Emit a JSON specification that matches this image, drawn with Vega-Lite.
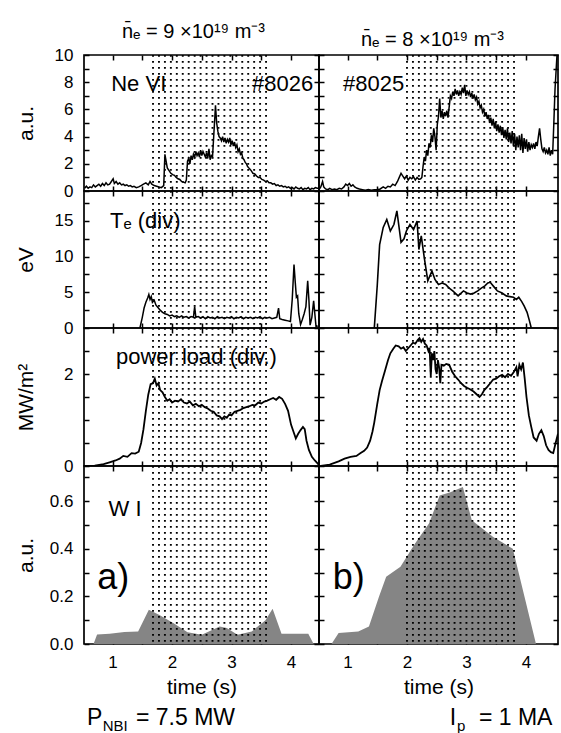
{
"$schema": "https://vega.github.io/schema/vega-lite/v6.json",
"background": "white",
"padding": {"left": 14, "top": 21, "right": 0, "bottom": 0},
"columns": 2,
"spacing": 0,
"bounds": "flush",
"align": "each",
"datasets": {
"dots_l": [{"t":1.68},{"t":1.78},{"t":1.88},{"t":1.98},{"t":2.08},{"t":2.18},{"t":2.28},{"t":2.38},{"t":2.48},{"t":2.58},{"t":2.68},{"t":2.78},{"t":2.88},{"t":2.98},{"t":3.08},{"t":3.18},{"t":3.28},{"t":3.38},{"t":3.48},{"t":3.58}],
"dots_r": [{"t":2.0},{"t":2.1},{"t":2.2},{"t":2.3},{"t":2.4},{"t":2.5},{"t":2.6},{"t":2.7},{"t":2.8},{"t":2.9},{"t":3.0},{"t":3.1},{"t":3.2},{"t":3.3},{"t":3.4},{"t":3.5},{"t":3.6},{"t":3.7},{"t":3.8}],
"ne_l": [{"t":0.53,"v":0.2},{"t":0.56,"v":0.35},{"t":0.59,"v":0.2},{"t":0.62,"v":0.3},{"t":0.65,"v":0.25},{"t":0.68,"v":0.45},{"t":0.71,"v":0.3},{"t":0.74,"v":0.4},{"t":0.77,"v":0.5},{"t":0.8,"v":0.35},{"t":0.83,"v":0.55},{"t":0.86,"v":0.4},{"t":0.89,"v":0.6},{"t":0.92,"v":0.45},{"t":0.95,"v":0.5},{"t":0.98,"v":0.7},{"t":1.01,"v":0.9},{"t":1.03,"v":0.55},{"t":1.06,"v":0.7},{"t":1.09,"v":0.5},{"t":1.12,"v":0.6},{"t":1.15,"v":0.45},{"t":1.18,"v":0.5},{"t":1.21,"v":0.4},{"t":1.24,"v":0.45},{"t":1.27,"v":0.35},{"t":1.3,"v":0.4},{"t":1.33,"v":0.3},{"t":1.36,"v":0.35},{"t":1.4,"v":0.25},{"t":1.44,"v":0.3},{"t":1.48,"v":0.4},{"t":1.52,"v":0.5},{"t":1.56,"v":0.6},{"t":1.6,"v":0.45},{"t":1.63,"v":0.7},{"t":1.66,"v":0.5},{"t":1.7,"v":0.4},{"t":1.74,"v":0.35},{"t":1.78,"v":0.3},{"t":1.82,"v":0.25},{"t":1.86,"v":0.4},{"t":1.88,"v":2.7},{"t":1.9,"v":2.2},{"t":1.92,"v":1.7},{"t":1.95,"v":1.5},{"t":1.98,"v":1.3},{"t":2.01,"v":1.2},{"t":2.04,"v":1.15},{"t":2.07,"v":1.0},{"t":2.1,"v":0.9},{"t":2.13,"v":0.85},{"t":2.16,"v":0.7},{"t":2.19,"v":0.65},{"t":2.22,"v":0.6},{"t":2.24,"v":0.8},{"t":2.26,"v":2.2},{"t":2.28,"v":2.4},{"t":2.3,"v":2.0},{"t":2.32,"v":2.6},{"t":2.34,"v":2.3},{"t":2.36,"v":2.7},{"t":2.38,"v":2.5},{"t":2.4,"v":2.9},{"t":2.42,"v":2.6},{"t":2.44,"v":2.8},{"t":2.46,"v":2.5},{"t":2.48,"v":3.0},{"t":2.5,"v":2.6},{"t":2.52,"v":2.9},{"t":2.54,"v":2.7},{"t":2.56,"v":2.5},{"t":2.58,"v":2.8},{"t":2.6,"v":2.4},{"t":2.62,"v":3.1},{"t":2.64,"v":2.3},{"t":2.66,"v":2.6},{"t":2.68,"v":2.5},{"t":2.7,"v":4.0},{"t":2.72,"v":5.5},{"t":2.73,"v":6.3},{"t":2.75,"v":5.0},{"t":2.77,"v":4.4},{"t":2.79,"v":4.0},{"t":2.81,"v":3.9},{"t":2.83,"v":3.7},{"t":2.85,"v":4.0},{"t":2.87,"v":3.6},{"t":2.89,"v":3.9},{"t":2.91,"v":3.5},{"t":2.93,"v":3.8},{"t":2.95,"v":3.6},{"t":2.97,"v":3.9},{"t":2.99,"v":3.4},{"t":3.01,"v":3.7},{"t":3.03,"v":3.3},{"t":3.05,"v":3.6},{"t":3.07,"v":3.2},{"t":3.09,"v":3.4},{"t":3.11,"v":2.9},{"t":3.13,"v":3.1},{"t":3.15,"v":2.7},{"t":3.17,"v":2.8},{"t":3.19,"v":2.4},{"t":3.21,"v":2.3},{"t":3.23,"v":2.1},{"t":3.25,"v":2.0},{"t":3.27,"v":1.8},{"t":3.29,"v":1.7},{"t":3.31,"v":1.6},{"t":3.33,"v":1.5},{"t":3.36,"v":1.3},{"t":3.39,"v":1.25},{"t":3.42,"v":1.1},{"t":3.45,"v":1.0},{"t":3.48,"v":1.0},{"t":3.51,"v":0.85},{"t":3.54,"v":0.8},{"t":3.57,"v":0.7},{"t":3.6,"v":0.75},{"t":3.63,"v":0.6},{"t":3.66,"v":0.6},{"t":3.69,"v":0.5},{"t":3.72,"v":0.55},{"t":3.75,"v":0.4},{"t":3.78,"v":0.45},{"t":3.81,"v":0.35},{"t":3.84,"v":0.4},{"t":3.87,"v":0.3},{"t":3.9,"v":0.35},{"t":3.93,"v":0.25},{"t":3.96,"v":0.3},{"t":3.99,"v":0.2},{"t":4.02,"v":0.25},{"t":4.05,"v":0.15},{"t":4.08,"v":0.3},{"t":4.11,"v":0.2},{"t":4.14,"v":0.15},{"t":4.17,"v":0.25},{"t":4.2,"v":0.1},{"t":4.23,"v":0.2},{"t":4.26,"v":0.15},{"t":4.29,"v":0.25},{"t":4.32,"v":0.1},{"t":4.35,"v":0.2},{"t":4.38,"v":0.15},{"t":4.41,"v":0.25},{"t":4.44,"v":0.2},{"t":4.47,"v":0.2}],
"ne_r": [{"t":0.52,"v":0.1},{"t":0.55,"v":0.3},{"t":0.58,"v":0.7},{"t":0.6,"v":0.3},{"t":0.63,"v":0.15},{"t":0.67,"v":0.1},{"t":0.7,"v":0.2},{"t":0.74,"v":0.1},{"t":0.78,"v":0.15},{"t":0.82,"v":0.1},{"t":0.86,"v":0.2},{"t":0.9,"v":0.15},{"t":0.94,"v":0.3},{"t":0.97,"v":0.5},{"t":1.0,"v":0.4},{"t":1.03,"v":0.55},{"t":1.06,"v":0.35},{"t":1.09,"v":0.45},{"t":1.12,"v":0.3},{"t":1.16,"v":0.2},{"t":1.2,"v":0.15},{"t":1.25,"v":0.1},{"t":1.3,"v":0.05},{"t":1.35,"v":0.1},{"t":1.4,"v":0.05},{"t":1.45,"v":0.1},{"t":1.5,"v":0.1},{"t":1.55,"v":0.15},{"t":1.6,"v":0.3},{"t":1.64,"v":0.2},{"t":1.68,"v":0.35},{"t":1.72,"v":0.3},{"t":1.76,"v":0.5},{"t":1.8,"v":0.4},{"t":1.84,"v":0.7},{"t":1.87,"v":1.0},{"t":1.9,"v":1.3},{"t":1.93,"v":1.1},{"t":1.96,"v":0.9},{"t":1.99,"v":1.1},{"t":2.02,"v":0.8},{"t":2.05,"v":1.0},{"t":2.08,"v":0.9},{"t":2.11,"v":1.05},{"t":2.14,"v":0.8},{"t":2.17,"v":1.0},{"t":2.2,"v":0.85},{"t":2.23,"v":0.9},{"t":2.25,"v":1.0},{"t":2.27,"v":1.8},{"t":2.29,"v":2.5},{"t":2.31,"v":2.2},{"t":2.33,"v":3.0},{"t":2.35,"v":2.6},{"t":2.37,"v":3.5},{"t":2.39,"v":3.2},{"t":2.41,"v":4.1},{"t":2.43,"v":3.6},{"t":2.45,"v":4.6},{"t":2.47,"v":4.0},{"t":2.49,"v":3.0},{"t":2.51,"v":4.9},{"t":2.53,"v":5.5},{"t":2.55,"v":6.8},{"t":2.57,"v":5.4},{"t":2.59,"v":5.9},{"t":2.61,"v":5.3},{"t":2.63,"v":5.8},{"t":2.65,"v":5.5},{"t":2.67,"v":5.9},{"t":2.69,"v":5.4},{"t":2.71,"v":6.2},{"t":2.73,"v":7.0},{"t":2.75,"v":6.8},{"t":2.77,"v":7.3},{"t":2.79,"v":7.0},{"t":2.81,"v":7.5},{"t":2.83,"v":7.1},{"t":2.85,"v":7.4},{"t":2.87,"v":7.0},{"t":2.89,"v":7.3},{"t":2.91,"v":7.1},{"t":2.93,"v":7.6},{"t":2.95,"v":7.2},{"t":2.97,"v":7.8},{"t":2.99,"v":7.0},{"t":3.01,"v":7.4},{"t":3.03,"v":7.1},{"t":3.05,"v":7.3},{"t":3.07,"v":6.9},{"t":3.09,"v":7.2},{"t":3.11,"v":6.8},{"t":3.13,"v":7.1},{"t":3.15,"v":6.7},{"t":3.17,"v":6.9},{"t":3.19,"v":6.4},{"t":3.21,"v":6.6},{"t":3.23,"v":6.1},{"t":3.25,"v":6.3},{"t":3.27,"v":5.8},{"t":3.29,"v":6.0},{"t":3.31,"v":5.5},{"t":3.33,"v":5.8},{"t":3.35,"v":5.3},{"t":3.37,"v":5.6},{"t":3.39,"v":5.0},{"t":3.41,"v":5.4},{"t":3.43,"v":4.8},{"t":3.45,"v":5.3},{"t":3.47,"v":4.6},{"t":3.49,"v":5.1},{"t":3.51,"v":4.4},{"t":3.53,"v":4.9},{"t":3.55,"v":4.3},{"t":3.57,"v":4.8},{"t":3.59,"v":4.1},{"t":3.61,"v":4.7},{"t":3.63,"v":3.9},{"t":3.65,"v":4.5},{"t":3.67,"v":3.8},{"t":3.69,"v":4.6},{"t":3.71,"v":3.6},{"t":3.73,"v":4.3},{"t":3.75,"v":3.5},{"t":3.77,"v":4.4},{"t":3.79,"v":3.3},{"t":3.81,"v":4.2},{"t":3.83,"v":3.0},{"t":3.85,"v":4.0},{"t":3.87,"v":3.2},{"t":3.89,"v":4.1},{"t":3.91,"v":3.0},{"t":3.93,"v":4.2},{"t":3.95,"v":2.8},{"t":3.97,"v":3.9},{"t":3.99,"v":3.1},{"t":4.01,"v":3.8},{"t":4.03,"v":2.9},{"t":4.05,"v":3.6},{"t":4.07,"v":3.0},{"t":4.09,"v":3.4},{"t":4.11,"v":3.2},{"t":4.13,"v":3.5},{"t":4.15,"v":3.1},{"t":4.17,"v":3.6},{"t":4.19,"v":3.3},{"t":4.21,"v":4.0},{"t":4.23,"v":4.6},{"t":4.25,"v":3.8},{"t":4.27,"v":3.1},{"t":4.29,"v":2.9},{"t":4.31,"v":3.2},{"t":4.33,"v":2.8},{"t":4.35,"v":3.0},{"t":4.37,"v":2.7},{"t":4.39,"v":3.2},{"t":4.41,"v":2.6},{"t":4.43,"v":3.0},{"t":4.45,"v":2.7},{"t":4.47,"v":5.0},{"t":4.49,"v":7.5},{"t":4.51,"v":9.0},{"t":4.53,"v":10.5}],
"te_l": [{"t":1.46,"v":0},{"t":1.5,"v":1.5},{"t":1.53,"v":2.8},{"t":1.56,"v":3.6},{"t":1.59,"v":4.2},{"t":1.61,"v":4.7},{"t":1.63,"v":4.0},{"t":1.65,"v":4.4},{"t":1.67,"v":3.6},{"t":1.7,"v":3.9},{"t":1.73,"v":3.2},{"t":1.76,"v":2.9},{"t":1.8,"v":2.5},{"t":1.84,"v":2.2},{"t":1.88,"v":2.0},{"t":1.92,"v":1.9},{"t":1.96,"v":1.7},{"t":2.0,"v":1.8},{"t":2.04,"v":1.6},{"t":2.08,"v":1.7},{"t":2.12,"v":1.5},{"t":2.16,"v":1.7},{"t":2.2,"v":1.5},{"t":2.24,"v":1.6},{"t":2.28,"v":1.4},{"t":2.32,"v":1.6},{"t":2.36,"v":1.5},{"t":2.38,"v":3.0},{"t":2.4,"v":1.5},{"t":2.44,"v":1.6},{"t":2.48,"v":1.4},{"t":2.52,"v":1.6},{"t":2.56,"v":1.3},{"t":2.6,"v":1.6},{"t":2.64,"v":1.4},{"t":2.68,"v":1.5},{"t":2.72,"v":1.3},{"t":2.76,"v":1.6},{"t":2.8,"v":1.4},{"t":2.84,"v":1.5},{"t":2.88,"v":1.3},{"t":2.92,"v":1.5},{"t":2.96,"v":1.4},{"t":3.0,"v":1.6},{"t":3.04,"v":1.3},{"t":3.08,"v":1.5},{"t":3.12,"v":1.4},{"t":3.16,"v":1.6},{"t":3.2,"v":1.3},{"t":3.24,"v":1.5},{"t":3.28,"v":1.4},{"t":3.32,"v":1.5},{"t":3.36,"v":1.3},{"t":3.4,"v":1.5},{"t":3.44,"v":1.4},{"t":3.48,"v":1.6},{"t":3.52,"v":1.3},{"t":3.56,"v":1.5},{"t":3.6,"v":1.4},{"t":3.64,"v":1.5},{"t":3.68,"v":1.3},{"t":3.72,"v":1.4},{"t":3.76,"v":1.5},{"t":3.79,"v":2.8},{"t":3.81,"v":1.3},{"t":3.85,"v":1.2},{"t":3.9,"v":1.1},{"t":3.95,"v":1.0},{"t":3.99,"v":0.9},{"t":4.02,"v":4.0},{"t":4.05,"v":8.9},{"t":4.07,"v":6.5},{"t":4.09,"v":4.3},{"t":4.11,"v":4.5},{"t":4.13,"v":2.0},{"t":4.16,"v":0.5},{"t":4.19,"v":1.2},{"t":4.22,"v":2.0},{"t":4.25,"v":3.0},{"t":4.28,"v":6.6},{"t":4.3,"v":4.0},{"t":4.32,"v":0.4},{"t":4.35,"v":1.5},{"t":4.38,"v":3.8},{"t":4.4,"v":2.0},{"t":4.42,"v":0.2},{"t":4.45,"v":0.3}],
"te_r": [{"t":1.45,"v":0},{"t":1.5,"v":6},{"t":1.54,"v":11.7},{"t":1.6,"v":14.1},{"t":1.66,"v":15.2},{"t":1.72,"v":13.6},{"t":1.78,"v":14.5},{"t":1.83,"v":16.4},{"t":1.9,"v":12.0},{"t":1.95,"v":12.5},{"t":1.99,"v":13.6},{"t":2.05,"v":14.5},{"t":2.11,"v":13.8},{"t":2.17,"v":15.0},{"t":2.2,"v":11.0},{"t":2.24,"v":12.9},{"t":2.29,"v":9.9},{"t":2.35,"v":6.6},{"t":2.42,"v":8.0},{"t":2.47,"v":6.8},{"t":2.53,"v":6.1},{"t":2.59,"v":6.3},{"t":2.65,"v":6.1},{"t":2.71,"v":5.6},{"t":2.77,"v":5.2},{"t":2.86,"v":4.5},{"t":2.95,"v":5.2},{"t":3.01,"v":4.9},{"t":3.07,"v":4.75},{"t":3.13,"v":4.9},{"t":3.19,"v":5.2},{"t":3.25,"v":5.6},{"t":3.31,"v":5.9},{"t":3.36,"v":6.3},{"t":3.4,"v":6.4},{"t":3.46,"v":5.8},{"t":3.52,"v":5.2},{"t":3.6,"v":4.9},{"t":3.67,"v":4.5},{"t":3.73,"v":4.4},{"t":3.79,"v":4.3},{"t":3.84,"v":4.0},{"t":3.88,"v":4.3},{"t":3.93,"v":3.7},{"t":3.97,"v":3.1},{"t":4.02,"v":2.2},{"t":4.06,"v":1.0},{"t":4.09,"v":0}],
"pw_l": [{"t":0.52,"v":0},{"t":0.7,"v":0.01},{"t":0.85,"v":0.04},{"t":0.95,"v":0.08},{"t":1.05,"v":0.12},{"t":1.12,"v":0.16},{"t":1.18,"v":0.22},{"t":1.25,"v":0.2},{"t":1.32,"v":0.28},{"t":1.38,"v":0.27},{"t":1.44,"v":0.31},{"t":1.48,"v":0.5},{"t":1.52,"v":0.8},{"t":1.56,"v":1.2},{"t":1.6,"v":1.55},{"t":1.64,"v":1.78},{"t":1.68,"v":1.8},{"t":1.71,"v":1.9},{"t":1.74,"v":1.75},{"t":1.77,"v":1.8},{"t":1.8,"v":1.65},{"t":1.84,"v":1.6},{"t":1.88,"v":1.5},{"t":1.92,"v":1.42},{"t":1.96,"v":1.45},{"t":2.0,"v":1.38},{"t":2.05,"v":1.42},{"t":2.1,"v":1.4},{"t":2.15,"v":1.45},{"t":2.2,"v":1.38},{"t":2.25,"v":1.36},{"t":2.3,"v":1.4},{"t":2.35,"v":1.32},{"t":2.4,"v":1.35},{"t":2.45,"v":1.3},{"t":2.5,"v":1.33},{"t":2.55,"v":1.28},{"t":2.6,"v":1.25},{"t":2.65,"v":1.2},{"t":2.7,"v":1.18},{"t":2.75,"v":1.1},{"t":2.8,"v":1.08},{"t":2.84,"v":1.02},{"t":2.88,"v":1.08},{"t":2.92,"v":1.05},{"t":2.96,"v":1.12},{"t":3.0,"v":1.1},{"t":3.05,"v":1.18},{"t":3.1,"v":1.2},{"t":3.15,"v":1.22},{"t":3.2,"v":1.26},{"t":3.25,"v":1.28},{"t":3.3,"v":1.3},{"t":3.35,"v":1.33},{"t":3.4,"v":1.32},{"t":3.45,"v":1.38},{"t":3.5,"v":1.36},{"t":3.55,"v":1.4},{"t":3.6,"v":1.42},{"t":3.65,"v":1.45},{"t":3.7,"v":1.48},{"t":3.75,"v":1.44},{"t":3.8,"v":1.5},{"t":3.85,"v":1.46},{"t":3.9,"v":1.35},{"t":3.95,"v":1.2},{"t":4.0,"v":0.9},{"t":4.04,"v":0.75},{"t":4.08,"v":0.6},{"t":4.12,"v":0.7},{"t":4.16,"v":0.78},{"t":4.2,"v":0.85},{"t":4.23,"v":0.8},{"t":4.26,"v":0.55},{"t":4.3,"v":0.35},{"t":4.35,"v":0.2},{"t":4.4,"v":0.12},{"t":4.45,"v":0.05},{"t":4.47,"v":0.02}],
"pw_r": [{"t":0.55,"v":0},{"t":0.7,"v":0.03},{"t":0.85,"v":0.1},{"t":0.95,"v":0.16},{"t":1.05,"v":0.2},{"t":1.15,"v":0.22},{"t":1.22,"v":0.28},{"t":1.28,"v":0.33},{"t":1.33,"v":0.4},{"t":1.38,"v":0.55},{"t":1.42,"v":0.75},{"t":1.45,"v":0.95},{"t":1.5,"v":1.35},{"t":1.54,"v":1.65},{"t":1.58,"v":1.85},{"t":1.63,"v":2.07},{"t":1.68,"v":2.3},{"t":1.72,"v":2.45},{"t":1.77,"v":2.55},{"t":1.81,"v":2.62},{"t":1.86,"v":2.6},{"t":1.9,"v":2.55},{"t":1.94,"v":2.58},{"t":1.98,"v":2.5},{"t":2.02,"v":2.56},{"t":2.06,"v":2.62},{"t":2.1,"v":2.68},{"t":2.14,"v":2.66},{"t":2.18,"v":2.74},{"t":2.21,"v":2.78},{"t":2.24,"v":2.7},{"t":2.27,"v":2.76},{"t":2.3,"v":2.66},{"t":2.33,"v":2.62},{"t":2.36,"v":2.5},{"t":2.38,"v":2.57},{"t":2.4,"v":1.95},{"t":2.42,"v":2.45},{"t":2.44,"v":2.3},{"t":2.46,"v":2.5},{"t":2.48,"v":2.1},{"t":2.5,"v":2.0},{"t":2.52,"v":2.3},{"t":2.54,"v":2.15},{"t":2.56,"v":1.8},{"t":2.58,"v":2.2},{"t":2.62,"v":2.18},{"t":2.66,"v":2.22},{"t":2.71,"v":2.2},{"t":2.76,"v":2.05},{"t":2.81,"v":1.95},{"t":2.86,"v":1.88},{"t":2.91,"v":1.8},{"t":2.96,"v":1.74},{"t":3.01,"v":1.7},{"t":3.06,"v":1.67},{"t":3.12,"v":1.62},{"t":3.17,"v":1.56},{"t":3.22,"v":1.5},{"t":3.26,"v":1.56},{"t":3.3,"v":1.65},{"t":3.35,"v":1.72},{"t":3.4,"v":1.8},{"t":3.45,"v":1.88},{"t":3.5,"v":1.9},{"t":3.55,"v":1.95},{"t":3.6,"v":1.98},{"t":3.65,"v":1.93},{"t":3.7,"v":2.0},{"t":3.75,"v":1.96},{"t":3.8,"v":2.05},{"t":3.84,"v":2.15},{"t":3.86,"v":1.95},{"t":3.89,"v":2.2},{"t":3.92,"v":2.1},{"t":3.95,"v":2.25},{"t":3.98,"v":1.9},{"t":4.01,"v":1.5},{"t":4.05,"v":1.1},{"t":4.09,"v":0.85},{"t":4.13,"v":0.62},{"t":4.18,"v":0.55},{"t":4.22,"v":0.7},{"t":4.26,"v":0.78},{"t":4.3,"v":0.65},{"t":4.34,"v":0.45},{"t":4.38,"v":0.35},{"t":4.42,"v":0.3},{"t":4.46,"v":0.28},{"t":4.5,"v":0.5},{"t":4.54,"v":0.7}],
"w_l": [{"t":0.68,"v":0},{"t":0.74,"v":0.04},{"t":0.95,"v":0.043},{"t":1.2,"v":0.05},{"t":1.43,"v":0.053},{"t":1.61,"v":0.144},{"t":1.78,"v":0.123},{"t":2.02,"v":0.088},{"t":2.26,"v":0.049},{"t":2.5,"v":0.039},{"t":2.8,"v":0.074},{"t":2.92,"v":0.067},{"t":3.1,"v":0.039},{"t":3.34,"v":0.053},{"t":3.57,"v":0.1},{"t":3.69,"v":0.148},{"t":3.84,"v":0.043},{"t":4.29,"v":0.043},{"t":4.38,"v":0}],
"w_r": [{"t":0.73,"v":0},{"t":0.85,"v":0.046},{"t":1.18,"v":0.053},{"t":1.36,"v":0.074},{"t":1.53,"v":0.2},{"t":1.65,"v":0.283},{"t":1.89,"v":0.325},{"t":2.13,"v":0.42},{"t":2.37,"v":0.506},{"t":2.55,"v":0.624},{"t":2.73,"v":0.638},{"t":2.94,"v":0.66},{"t":3.09,"v":0.52},{"t":3.45,"v":0.45},{"t":3.78,"v":0.4},{"t":3.99,"v":0.185},{"t":4.17,"v":0}],
"labels": [{"p":"ne_l","label":"Ne VI","t":1.44,"v":7.35},{"p":"ne_l","label":"#8026","t":3.86,"v":7.35},{"p":"ne_r","label":"#8025","t":1.44,"v":7.35},{"p":"te_l","label":"T\u2091 (div)","t":1.55,"v":14.0},{"p":"pw_l","label":"power load (div.)","t":2.41,"v":2.22},{"p":"w_l","label":"W I","t":1.21,"v":0.536}],
"tags": [{"p":"w_l","label":"a)","t":1.01,"v":0.23},{"p":"w_r","label":"b)","t":1.02,"v":0.23}],
"foot": [{"p":"l","part":"main","label":"P","t":0.57,"v":-0.34},{"p":"l","part":"sub","label":"NBI","t":0.834,"v":-0.34},{"p":"l","part":"main","label":"= 7.5 MW","t":1.394,"v":-0.34},{"p":"r","part":"main","label":"I","t":2.72,"v":-0.34},{"p":"r","part":"sub","label":"p","t":2.84,"v":-0.34},{"p":"r","part":"main","label":"= 1 MA","t":3.21,"v":-0.34}]
},
"concat": [
{
"width": 235, "height": 136,
"title": {"text": "n\u0304\u2091 = 9 \u00d710\u00b9\u2079 m\u207b\u00b3", "baseline": "alphabetic", "offset": -12, "dx": -8},
"layer": [
{"data": {"name": "dots_l"}, "mark": {"type": "rule", "strokeDash": [1.8, 4.2], "strokeWidth": 1.9, "color": "black"},
 "encoding": {"x": {"field": "t", "type": "quantitative", "scale": {"domain": [0.52, 4.47], "nice": false}, "axis": {"orient": "top", "values": [1,1.5,2,2.5,3,3.5,4], "labels": false, "title": null}}}},
{"data": {"name": "ne_l"}, "mark": {"type": "line", "color": "black", "strokeWidth": 1.5, "clip": true},
 "encoding": {"x": {"field": "t", "type": "quantitative", "scale": {"domain": [0.52, 4.47], "nice": false}, "axis": {"orient": "bottom", "values": [1,1.5,2,2.5,3,3.5,4], "labels": false, "title": null}},
  "y": {"field": "v", "type": "quantitative", "scale": {"domain": [0, 10], "nice": false}, "axis": {"orient": "left", "values": [0,1,2,3,4,5,6,7,8,9,10], "labelExpr": "datum.value % 2 == 0 ? datum.label : ''", "title": "a.u.", "titleX": -48}}}},
{"data": {"name": "ne_l"}, "mark": {"type": "line", "opacity": 0},
 "encoding": {"x": {"field": "t", "type": "quantitative", "scale": {"domain": [0.52, 4.47], "nice": false}, "axis": null},
  "y": {"field": "v", "type": "quantitative", "scale": {"domain": [0, 10], "nice": false}, "axis": {"orient": "right", "values": [0,1,2,3,4,5,6,7,8,9,10], "labels": false, "title": null}}}},
{"data": {"name": "labels"}, "transform": [{"filter": "datum.p == 'ne_l'"}], "mark": {"type": "text", "fontSize": 22, "align": "center", "baseline": "alphabetic"},
 "encoding": {"x": {"field": "t", "type": "quantitative", "scale": {"domain": [0.52, 4.47], "nice": false}, "axis": null}, "y": {"field": "v", "type": "quantitative", "scale": {"domain": [0, 10], "nice": false}, "axis": null}, "text": {"field": "label"}}}
],
"resolve": {"axis": {"x": "independent", "y": "independent"}}
},
{
"width": 239, "height": 136,
"title": {"text": "n\u0304\u2091 = 8 \u00d710\u00b9\u2079 m\u207b\u00b3", "baseline": "alphabetic", "offset": -12, "dx": -6},
"layer": [
{"data": {"name": "dots_r"}, "mark": {"type": "rule", "strokeDash": [1.8, 4.2], "strokeWidth": 1.9, "color": "black"},
 "encoding": {"x": {"field": "t", "type": "quantitative", "scale": {"domain": [0.52, 4.54], "nice": false}, "axis": {"orient": "top", "values": [1,1.5,2,2.5,3,3.5,4], "labels": false, "title": null}}}},
{"data": {"name": "ne_r"}, "mark": {"type": "line", "color": "black", "strokeWidth": 1.5, "clip": true},
 "encoding": {"x": {"field": "t", "type": "quantitative", "scale": {"domain": [0.52, 4.54], "nice": false}, "axis": {"orient": "bottom", "values": [1,1.5,2,2.5,3,3.5,4], "labels": false, "title": null}},
  "y": {"field": "v", "type": "quantitative", "scale": {"domain": [0, 10], "nice": false}, "axis": {"orient": "left", "values": [0,1,2,3,4,5,6,7,8,9,10], "labels": false, "title": null}}}},
{"data": {"name": "ne_r"}, "mark": {"type": "line", "opacity": 0, "clip": true},
 "encoding": {"x": {"field": "t", "type": "quantitative", "scale": {"domain": [0.52, 4.54], "nice": false}, "axis": null},
  "y": {"field": "v", "type": "quantitative", "scale": {"domain": [0, 10], "nice": false}, "axis": {"orient": "right", "values": [0,1,2,3,4,5,6,7,8,9,10], "labels": false, "title": null}}}},
{"data": {"name": "labels"}, "transform": [{"filter": "datum.p == 'ne_r'"}], "mark": {"type": "text", "fontSize": 22, "align": "center", "baseline": "alphabetic"},
 "encoding": {"x": {"field": "t", "type": "quantitative", "scale": {"domain": [0.52, 4.54], "nice": false}, "axis": null}, "y": {"field": "v", "type": "quantitative", "scale": {"domain": [0, 10], "nice": false}, "axis": null}, "text": {"field": "label"}}}
],
"resolve": {"axis": {"x": "independent", "y": "independent"}}
},
{
"width": 235, "height": 137,
"layer": [
{"data": {"name": "dots_l"}, "mark": {"type": "rule", "strokeDash": [1.8, 4.2], "strokeWidth": 1.9, "color": "black"},
 "encoding": {"x": {"field": "t", "type": "quantitative", "scale": {"domain": [0.52, 4.47], "nice": false}, "axis": {"orient": "top", "values": [1,1.5,2,2.5,3,3.5,4], "labels": false, "title": null}}}},
{"data": {"name": "te_l"}, "mark": {"type": "line", "color": "black", "strokeWidth": 1.5, "clip": true},
 "encoding": {"x": {"field": "t", "type": "quantitative", "scale": {"domain": [0.52, 4.47], "nice": false}, "axis": {"orient": "bottom", "values": [1,1.5,2,2.5,3,3.5,4], "labels": false, "title": null}},
  "y": {"field": "v", "type": "quantitative", "scale": {"domain": [0, 19.2], "nice": false}, "axis": {"orient": "left", "values": [0,2.5,5,7.5,10,12.5,15,17.5], "labelExpr": "datum.value % 5 == 0 ? datum.label : ''", "title": "eV", "titleX": -48}}}},
{"data": {"name": "te_l"}, "mark": {"type": "line", "opacity": 0},
 "encoding": {"x": {"field": "t", "type": "quantitative", "scale": {"domain": [0.52, 4.47], "nice": false}, "axis": null},
  "y": {"field": "v", "type": "quantitative", "scale": {"domain": [0, 19.2], "nice": false}, "axis": {"orient": "right", "values": [0,2.5,5,7.5,10,12.5,15,17.5], "labels": false, "title": null}}}},
{"data": {"name": "labels"}, "transform": [{"filter": "datum.p == 'te_l'"}], "mark": {"type": "text", "fontSize": 22, "align": "center", "baseline": "alphabetic"},
 "encoding": {"x": {"field": "t", "type": "quantitative", "scale": {"domain": [0.52, 4.47], "nice": false}, "axis": null}, "y": {"field": "v", "type": "quantitative", "scale": {"domain": [0, 19.2], "nice": false}, "axis": null}, "text": {"field": "label"}}}
],
"resolve": {"axis": {"x": "independent", "y": "independent"}}
},
{
"width": 239, "height": 137,
"layer": [
{"data": {"name": "dots_r"}, "mark": {"type": "rule", "strokeDash": [1.8, 4.2], "strokeWidth": 1.9, "color": "black"},
 "encoding": {"x": {"field": "t", "type": "quantitative", "scale": {"domain": [0.52, 4.54], "nice": false}, "axis": {"orient": "top", "values": [1,1.5,2,2.5,3,3.5,4], "labels": false, "title": null}}}},
{"data": {"name": "te_r"}, "mark": {"type": "line", "color": "black", "strokeWidth": 1.6, "clip": true},
 "encoding": {"x": {"field": "t", "type": "quantitative", "scale": {"domain": [0.52, 4.54], "nice": false}, "axis": {"orient": "bottom", "values": [1,1.5,2,2.5,3,3.5,4], "labels": false, "title": null}},
  "y": {"field": "v", "type": "quantitative", "scale": {"domain": [0, 19.2], "nice": false}, "axis": {"orient": "left", "values": [0,2.5,5,7.5,10,12.5,15,17.5], "labels": false, "title": null}}}},
{"data": {"name": "te_r"}, "mark": {"type": "line", "opacity": 0},
 "encoding": {"x": {"field": "t", "type": "quantitative", "scale": {"domain": [0.52, 4.54], "nice": false}, "axis": null},
  "y": {"field": "v", "type": "quantitative", "scale": {"domain": [0, 19.2], "nice": false}, "axis": {"orient": "right", "values": [0,2.5,5,7.5,10,12.5,15,17.5], "labels": false, "title": null}}}}
],
"resolve": {"axis": {"x": "independent", "y": "independent"}}
},
{
"width": 235, "height": 138,
"layer": [
{"data": {"name": "dots_l"}, "mark": {"type": "rule", "strokeDash": [1.8, 4.2], "strokeWidth": 1.9, "color": "black"},
 "encoding": {"x": {"field": "t", "type": "quantitative", "scale": {"domain": [0.52, 4.47], "nice": false}, "axis": {"orient": "top", "values": [1,1.5,2,2.5,3,3.5,4], "labels": false, "title": null}}}},
{"data": {"name": "pw_l"}, "mark": {"type": "line", "color": "black", "strokeWidth": 1.8, "clip": true},
 "encoding": {"x": {"field": "t", "type": "quantitative", "scale": {"domain": [0.52, 4.47], "nice": false}, "axis": {"orient": "bottom", "values": [1,1.5,2,2.5,3,3.5,4], "labels": false, "title": null}},
  "y": {"field": "v", "type": "quantitative", "scale": {"domain": [0, 3], "nice": false}, "axis": {"orient": "left", "values": [0,0.5,1,1.5,2,2.5], "format": ".0f", "labelExpr": "datum.value == 0 || datum.value == 2 ? datum.label : ''", "title": "MW/m\u00b2", "titleX": -48}}}},
{"data": {"name": "pw_l"}, "mark": {"type": "line", "opacity": 0},
 "encoding": {"x": {"field": "t", "type": "quantitative", "scale": {"domain": [0.52, 4.47], "nice": false}, "axis": null},
  "y": {"field": "v", "type": "quantitative", "scale": {"domain": [0, 3], "nice": false}, "axis": {"orient": "right", "values": [0,0.5,1,1.5,2,2.5], "labels": false, "title": null}}}},
{"data": {"name": "labels"}, "transform": [{"filter": "datum.p == 'pw_l'"}], "mark": {"type": "text", "fontSize": 22, "align": "center", "baseline": "alphabetic"},
 "encoding": {"x": {"field": "t", "type": "quantitative", "scale": {"domain": [0.52, 4.47], "nice": false}, "axis": null}, "y": {"field": "v", "type": "quantitative", "scale": {"domain": [0, 3], "nice": false}, "axis": null}, "text": {"field": "label"}}}
],
"resolve": {"axis": {"x": "independent", "y": "independent"}}
},
{
"width": 239, "height": 138,
"layer": [
{"data": {"name": "dots_r"}, "mark": {"type": "rule", "strokeDash": [1.8, 4.2], "strokeWidth": 1.9, "color": "black"},
 "encoding": {"x": {"field": "t", "type": "quantitative", "scale": {"domain": [0.52, 4.54], "nice": false}, "axis": {"orient": "top", "values": [1,1.5,2,2.5,3,3.5,4], "labels": false, "title": null}}}},
{"data": {"name": "pw_r"}, "mark": {"type": "line", "color": "black", "strokeWidth": 1.8, "clip": true},
 "encoding": {"x": {"field": "t", "type": "quantitative", "scale": {"domain": [0.52, 4.54], "nice": false}, "axis": {"orient": "bottom", "values": [1,1.5,2,2.5,3,3.5,4], "labels": false, "title": null}},
  "y": {"field": "v", "type": "quantitative", "scale": {"domain": [0, 3], "nice": false}, "axis": {"orient": "left", "values": [0,0.5,1,1.5,2,2.5], "labels": false, "title": null}}}},
{"data": {"name": "pw_r"}, "mark": {"type": "line", "opacity": 0},
 "encoding": {"x": {"field": "t", "type": "quantitative", "scale": {"domain": [0.52, 4.54], "nice": false}, "axis": null},
  "y": {"field": "v", "type": "quantitative", "scale": {"domain": [0, 3], "nice": false}, "axis": {"orient": "right", "values": [0,0.5,1,1.5,2,2.5], "labels": false, "title": null}}}}
],
"resolve": {"axis": {"x": "independent", "y": "independent"}}
},
{
"width": 235, "height": 178,
"layer": [
{"data": {"name": "w_l"}, "mark": {"type": "area", "color": "#858585", "clip": true},
 "encoding": {"x": {"field": "t", "type": "quantitative", "scale": {"domain": [0.52, 4.47], "nice": false}, "axis": {"orient": "bottom", "values": [1,1.5,2,2.5,3,3.5,4], "format": ".0f", "labelExpr": "datum.value % 1 == 0 ? datum.label : ''", "title": "time (s)", "titlePadding": 6}},
  "y": {"field": "v", "type": "quantitative", "scale": {"domain": [0, 0.748], "nice": false}, "axis": {"orient": "left", "values": [0,0.1,0.2,0.3,0.4,0.5,0.6,0.7], "format": ".1f", "labelExpr": "round(datum.value * 10) % 2 == 0 ? datum.label : ''", "title": "a.u.", "titleX": -48}}}},
{"data": {"name": "dots_l"}, "mark": {"type": "rule", "strokeDash": [1.8, 4.2], "strokeWidth": 1.9, "color": "black"},
 "encoding": {"x": {"field": "t", "type": "quantitative", "scale": {"domain": [0.52, 4.47], "nice": false}, "axis": {"orient": "top", "values": [1,1.5,2,2.5,3,3.5,4], "labels": false, "title": null}}}},
{"data": {"name": "w_l"}, "mark": {"type": "line", "opacity": 0},
 "encoding": {"x": {"field": "t", "type": "quantitative", "scale": {"domain": [0.52, 4.47], "nice": false}, "axis": null},
  "y": {"field": "v", "type": "quantitative", "scale": {"domain": [0, 0.748], "nice": false}, "axis": {"orient": "right", "values": [0,0.1,0.2,0.3,0.4,0.5,0.6,0.7], "labels": false, "title": null}}}},
{"data": {"name": "labels"}, "transform": [{"filter": "datum.p == 'w_l'"}], "mark": {"type": "text", "fontSize": 22, "align": "center", "baseline": "alphabetic"},
 "encoding": {"x": {"field": "t", "type": "quantitative", "scale": {"domain": [0.52, 4.47], "nice": false}, "axis": null}, "y": {"field": "v", "type": "quantitative", "scale": {"domain": [0, 0.748], "nice": false}, "axis": null}, "text": {"field": "label"}}},
{"data": {"name": "tags"}, "transform": [{"filter": "datum.p == 'w_l'"}], "mark": {"type": "text", "fontSize": 36, "align": "center", "baseline": "alphabetic"},
 "encoding": {"x": {"field": "t", "type": "quantitative", "scale": {"domain": [0.52, 4.47], "nice": false}, "axis": null}, "y": {"field": "v", "type": "quantitative", "scale": {"domain": [0, 0.748], "nice": false}, "axis": null}, "text": {"field": "label"}}},
{"data": {"name": "foot"}, "transform": [{"filter": "datum.p == 'l' && datum.part == 'main'"}], "mark": {"type": "text", "fontSize": 23, "align": "left", "baseline": "alphabetic"},
 "encoding": {"x": {"field": "t", "type": "quantitative", "scale": {"domain": [0.52, 4.47], "nice": false}, "axis": null}, "y": {"field": "v", "type": "quantitative", "scale": {"domain": [0, 0.748], "nice": false}, "axis": null}, "text": {"field": "label"}}},
{"data": {"name": "foot"}, "transform": [{"filter": "datum.p == 'l' && datum.part == 'sub'"}], "mark": {"type": "text", "fontSize": 15, "align": "left", "baseline": "alphabetic", "dy": 6},
 "encoding": {"x": {"field": "t", "type": "quantitative", "scale": {"domain": [0.52, 4.47], "nice": false}, "axis": null}, "y": {"field": "v", "type": "quantitative", "scale": {"domain": [0, 0.748], "nice": false}, "axis": null}, "text": {"field": "label"}}}
],
"resolve": {"axis": {"x": "independent", "y": "independent"}}
},
{
"width": 239, "height": 178,
"layer": [
{"data": {"name": "w_r"}, "mark": {"type": "area", "color": "#858585", "clip": true},
 "encoding": {"x": {"field": "t", "type": "quantitative", "scale": {"domain": [0.52, 4.54], "nice": false}, "axis": {"orient": "bottom", "values": [1,1.5,2,2.5,3,3.5,4], "format": ".0f", "labelExpr": "datum.value % 1 == 0 ? datum.label : ''", "title": "time (s)", "titlePadding": 6}},
  "y": {"field": "v", "type": "quantitative", "scale": {"domain": [0, 0.748], "nice": false}, "axis": {"orient": "left", "values": [0,0.1,0.2,0.3,0.4,0.5,0.6,0.7], "labels": false, "title": null}}}},
{"data": {"name": "dots_r"}, "mark": {"type": "rule", "strokeDash": [1.8, 4.2], "strokeWidth": 1.9, "color": "black"},
 "encoding": {"x": {"field": "t", "type": "quantitative", "scale": {"domain": [0.52, 4.54], "nice": false}, "axis": {"orient": "top", "values": [1,1.5,2,2.5,3,3.5,4], "labels": false, "title": null}}}},
{"data": {"name": "w_r"}, "mark": {"type": "line", "opacity": 0},
 "encoding": {"x": {"field": "t", "type": "quantitative", "scale": {"domain": [0.52, 4.54], "nice": false}, "axis": null},
  "y": {"field": "v", "type": "quantitative", "scale": {"domain": [0, 0.748], "nice": false}, "axis": {"orient": "right", "values": [0,0.1,0.2,0.3,0.4,0.5,0.6,0.7], "labels": false, "title": null}}}},
{"data": {"name": "tags"}, "transform": [{"filter": "datum.p == 'w_r'"}], "mark": {"type": "text", "fontSize": 36, "align": "center", "baseline": "alphabetic"},
 "encoding": {"x": {"field": "t", "type": "quantitative", "scale": {"domain": [0.52, 4.54], "nice": false}, "axis": null}, "y": {"field": "v", "type": "quantitative", "scale": {"domain": [0, 0.748], "nice": false}, "axis": null}, "text": {"field": "label"}}},
{"data": {"name": "foot"}, "transform": [{"filter": "datum.p == 'r' && datum.part == 'main'"}], "mark": {"type": "text", "fontSize": 23, "align": "left", "baseline": "alphabetic"},
 "encoding": {"x": {"field": "t", "type": "quantitative", "scale": {"domain": [0.52, 4.54], "nice": false}, "axis": null}, "y": {"field": "v", "type": "quantitative", "scale": {"domain": [0, 0.748], "nice": false}, "axis": null}, "text": {"field": "label"}}},
{"data": {"name": "foot"}, "transform": [{"filter": "datum.p == 'r' && datum.part == 'sub'"}], "mark": {"type": "text", "fontSize": 15, "align": "left", "baseline": "alphabetic", "dy": 6},
 "encoding": {"x": {"field": "t", "type": "quantitative", "scale": {"domain": [0.52, 4.54], "nice": false}, "axis": null}, "y": {"field": "v", "type": "quantitative", "scale": {"domain": [0, 0.748], "nice": false}, "axis": null}, "text": {"field": "label"}}}
],
"resolve": {"axis": {"x": "independent", "y": "independent"}}
}
],
"config": {
"font": "Liberation Sans",
"view": {"stroke": "black", "strokeWidth": 1.7},
"axis": {"domain": false, "grid": false, "ticks": true, "tickColor": "black", "tickWidth": 1.5, "tickSize": -5, "labelColor": "black", "labelFont": "Liberation Sans", "labelFontSize": 17, "titleColor": "black", "titleFont": "Liberation Sans", "titleFontSize": 21, "titleFontWeight": "normal", "labelFlush": false, "labelOverlap": false},
"axisLeft": {"labelPadding": 16},
"axisBottom": {"labelPadding": 15},
"title": {"font": "Liberation Sans", "fontSize": 20, "fontWeight": "normal", "color": "black"},
"text": {"font": "Liberation Sans", "color": "black"}
}
}
